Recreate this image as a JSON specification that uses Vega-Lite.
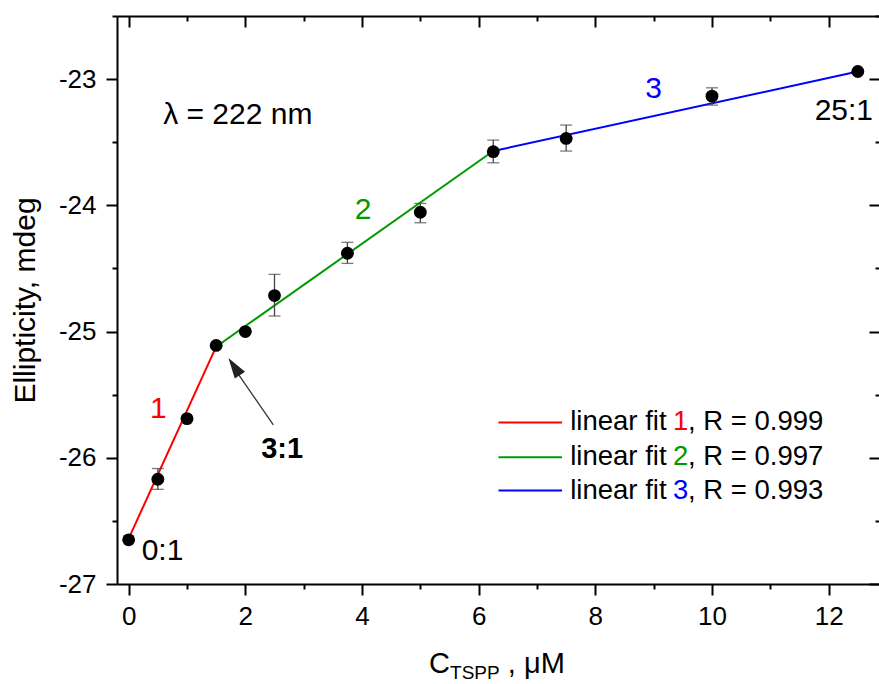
{
  "$schema": "https://vega.github.io/schema/vega-lite/v6.json",
  "width": 763,
  "height": 568,
  "autosize": {"type": "none"},
  "padding": {"left": 117, "top": 16, "right": 0, "bottom": 100},
  "background": "white",
  "config": {
    "view": {"stroke": null},
    "font": "Liberation Sans",
    "axis": {
      "domainColor": "black", "domainWidth": 2, "tickColor": "black", "tickWidth": 2,
      "labelFont": "Liberation Sans", "labelFontSize": 26, "labelColor": "black",
      "titleFont": "Liberation Sans", "titleFontSize": 30, "titleFontWeight": "normal", "titleColor": "black",
      "grid": false
    }
  },
  "datasets": {
    "points": [
      {"x": 0, "y": -26.65, "lo": -26.65, "hi": -26.65},
      {"x": 0.5, "y": -26.17, "lo": -26.25, "hi": -26.085},
      {"x": 1.0, "y": -25.69, "lo": -25.69, "hi": -25.69},
      {"x": 1.5, "y": -25.11, "lo": -25.11, "hi": -25.11},
      {"x": 2.0, "y": -25.0, "lo": -25.0, "hi": -25.0},
      {"x": 2.5, "y": -24.715, "lo": -24.877, "hi": -24.547},
      {"x": 3.75, "y": -24.38, "lo": -24.46, "hi": -24.293},
      {"x": 5.0, "y": -24.055, "lo": -24.138, "hi": -23.985},
      {"x": 6.25, "y": -23.575, "lo": -23.663, "hi": -23.483},
      {"x": 7.5, "y": -23.47, "lo": -23.57, "hi": -23.364},
      {"x": 10, "y": -23.135, "lo": -23.206, "hi": -23.069},
      {"x": 12.5, "y": -22.94, "lo": -22.94, "hi": -22.94}
    ],
    "fits": [
      {"seg": "1", "x": 0, "y": -26.64},
      {"seg": "1", "x": 1.5, "y": -25.12},
      {"seg": "2", "x": 1.5, "y": -25.12},
      {"seg": "2", "x": 6.25, "y": -23.57},
      {"seg": "3", "x": 6.25, "y": -23.57},
      {"seg": "3", "x": 12.5, "y": -22.94}
    ],
    "legend": [
      {"seg": "1", "x": 6.34, "x2": 7.43, "y": -25.72, "xt": 7.57, "xn": 9.33, "xs": 9.59, "suffix": ", R = 0.999"},
      {"seg": "2", "x": 6.34, "x2": 7.43, "y": -25.995, "xt": 7.57, "xn": 9.33, "xs": 9.59, "suffix": ", R = 0.997"},
      {"seg": "3", "x": 6.34, "x2": 7.43, "y": -26.26, "xt": 7.57, "xn": 9.33, "xs": 9.59, "suffix": ", R = 0.993"}
    ]
  },
  "resolve": {"axis": {"x": "independent", "y": "independent"}},
  "encoding": {
    "x": {"field": "x", "type": "quantitative", "scale": {"domain": [-0.2, 12.88], "nice": false, "zero": false}, "axis": null},
    "y": {"field": "y", "type": "quantitative", "scale": {"domain": [-27, -22.5], "nice": false, "zero": false}, "axis": null}
  },
  "layer": [
    {
      "data": {"name": "fits"},
      "mark": {"type": "line", "strokeWidth": 2},
      "encoding": {
        "x": {"field": "x", "type": "quantitative", "scale": {"domain": [-0.2, 12.88], "nice": false, "zero": false},
          "axis": {"orient": "top", "values": [0,1,2,3,4,5,6,7,8,9,10,11,12], "labels": false, "title": null,
            "tickSize": {"condition": {"test": "datum.value % 2 !== 0", "value": -5}, "value": -11}}},
        "y": {"field": "y", "type": "quantitative", "scale": {"domain": [-27, -22.5], "nice": false, "zero": false},
          "axis": {"orient": "right", "values": [-27,-26.5,-26,-25.5,-25,-24.5,-24,-23.5,-23,-22.5], "labels": false, "title": null,
            "tickSize": {"condition": {"test": "datum.value % 1 !== 0", "value": -5}, "value": -11}}},
        "color": {"field": "seg", "type": "nominal", "scale": {"domain": ["1","2","3"], "range": ["#ff0000","#009a00","#0000ff"]}, "legend": null}
      }
    },
    {
      "data": {"name": "points"},
      "mark": {"type": "rule", "color": "#444444", "strokeWidth": 1.3},
      "encoding": {
        "y": {"field": "lo", "type": "quantitative", "scale": {"domain": [-27, -22.5], "nice": false, "zero": false}, "axis": null},
        "y2": {"field": "hi"}
      }
    },
    {
      "data": {"name": "points"},
      "mark": {"type": "tick", "orient": "horizontal", "color": "#444444", "size": 12, "thickness": 1.3},
      "encoding": {
        "y": {"field": "lo", "type": "quantitative", "scale": {"domain": [-27, -22.5], "nice": false, "zero": false}, "axis": null}
      }
    },
    {
      "data": {"name": "points"},
      "mark": {"type": "tick", "orient": "horizontal", "color": "#444444", "size": 12, "thickness": 1.3},
      "encoding": {
        "y": {"field": "hi", "type": "quantitative", "scale": {"domain": [-27, -22.5], "nice": false, "zero": false}, "axis": null}
      }
    },
    {
      "data": {"name": "points"},
      "mark": {"type": "circle", "size": 165, "color": "black", "opacity": 1},
      "encoding": {
        "x": {"field": "x", "type": "quantitative", "scale": {"domain": [-0.2, 12.88], "nice": false, "zero": false},
          "axis": {"orient": "bottom", "values": [0,1,2,3,4,5,6,7,8,9,10,11,12], "title": null, "labelPadding": 8,
            "labelExpr": "datum.value % 2 === 0 ? '' + datum.value : ''",
            "tickSize": {"condition": {"test": "datum.value % 2 !== 0", "value": 5}, "value": 11}}},
        "y": {"field": "y", "type": "quantitative", "scale": {"domain": [-27, -22.5], "nice": false, "zero": false},
          "axis": {"orient": "left", "values": [-27,-26.5,-26,-25.5,-25,-24.5,-24,-23.5,-23,-22.5], "title": "Ellipticity, mdeg", "labelPadding": 10, "titlePadding": 18,
            "labelExpr": "datum.value % 1 === 0 ? '' + datum.value : ''",
            "tickSize": {"condition": {"test": "datum.value % 1 !== 0", "value": 5}, "value": 11}}}
      }
    },
    {
      "data": {"values": [{"x": 2.48, "y": -25.74, "x2": 1.75, "y2": -25.25}]},
      "mark": {"type": "rule", "color": "#333333", "strokeWidth": 1.3},
      "encoding": {"x2": {"field": "x2"}, "y2": {"field": "y2"}}
    },
    {
      "data": {"values": [{"x": 1.71, "y": -25.21}]},
      "mark": {"type": "point", "shape": "M0,0 L-0.3,1 L0.3,1 Z", "size": 1700, "angle": -34, "filled": true, "color": "#222222", "opacity": 1},
      "encoding": {}
    },
    {
      "data": {"values": [
        {"x": 0.51, "y": -25.61, "seg": "1", "t": "1"},
        {"x": 4.02, "y": -24.04, "seg": "2", "t": "2"},
        {"x": 9.0, "y": -23.08, "seg": "3", "t": "3"}
      ]},
      "mark": {"type": "text", "fontSize": 30, "align": "center", "baseline": "middle"},
      "encoding": {
        "text": {"field": "t"},
        "color": {"field": "seg", "type": "nominal", "scale": {"domain": ["1","2","3"], "range": ["#ff0000","#009a00","#0000ff"]}, "legend": null}
      }
    },
    {
      "data": {"values": [
        {"x": 0.58, "y": -26.74, "t": "0:1"},
        {"x": 12.26, "y": -23.25, "t": "25:1"},
        {"x": 1.87, "y": -23.285, "t": "λ = 222 nm"}
      ]},
      "mark": {"type": "text", "fontSize": 30, "align": "center", "baseline": "middle", "color": "black"},
      "encoding": {"text": {"field": "t"}}
    },
    {
      "data": {"values": [{"x": 2.63, "y": -25.93, "t": "3:1"}]},
      "mark": {"type": "text", "fontSize": 29, "fontWeight": "bold", "align": "center", "baseline": "middle", "color": "black"},
      "encoding": {"text": {"field": "t"}}
    },
    {
      "data": {"name": "legend"},
      "mark": {"type": "rule", "strokeWidth": 2},
      "encoding": {
        "x2": {"field": "x2"},
        "color": {"field": "seg", "type": "nominal", "scale": {"domain": ["1","2","3"], "range": ["#ff0000","#009a00","#0000ff"]}, "legend": null}
      }
    },
    {
      "data": {"name": "legend"},
      "mark": {"type": "text", "fontSize": 27.5, "align": "left", "baseline": "middle", "color": "black", "text": "linear fit"},
      "encoding": {"x": {"field": "xt", "type": "quantitative", "scale": {"domain": [-0.2, 12.88], "nice": false, "zero": false}, "axis": null}}
    },
    {
      "data": {"name": "legend"},
      "mark": {"type": "text", "fontSize": 27.5, "align": "left", "baseline": "middle"},
      "encoding": {
        "x": {"field": "xn", "type": "quantitative", "scale": {"domain": [-0.2, 12.88], "nice": false, "zero": false}, "axis": null},
        "text": {"field": "seg"},
        "color": {"field": "seg", "type": "nominal", "scale": {"domain": ["1","2","3"], "range": ["#ff0000","#009a00","#0000ff"]}, "legend": null}
      }
    },
    {
      "data": {"name": "legend"},
      "mark": {"type": "text", "fontSize": 27.5, "align": "left", "baseline": "middle", "color": "black"},
      "encoding": {
        "x": {"field": "xs", "type": "quantitative", "scale": {"domain": [-0.2, 12.88], "nice": false, "zero": false}, "axis": null},
        "text": {"field": "suffix"}
      }
    },
    {
      "data": {"values": [
        {"x": 5.15, "y": -27.705, "t": "C"},
        {"x": 6.5, "y": -27.705, "t": ", μM"}
      ]},
      "mark": {"type": "text", "fontSize": 29, "align": "left", "baseline": "alphabetic", "color": "black"},
      "encoding": {"text": {"field": "t"}}
    },
    {
      "data": {"values": [{"x": 5.51, "y": -27.752, "t": "TSPP"}]},
      "mark": {"type": "text", "fontSize": 19, "align": "left", "baseline": "alphabetic", "color": "black"},
      "encoding": {"text": {"field": "t"}}
    }
  ]
}
